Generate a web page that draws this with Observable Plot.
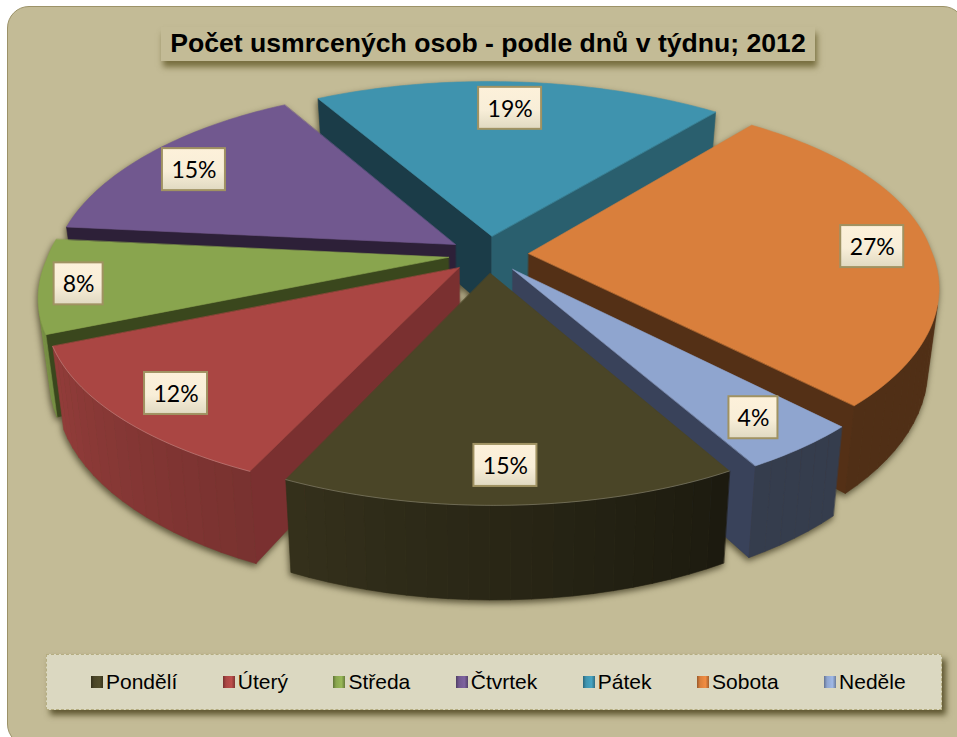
<!DOCTYPE html>
<html lang="cs">
<head>
<meta charset="utf-8">
<script src="https://cdn.jsdelivr.net/npm/d3@7"></script>
<script src="https://cdn.jsdelivr.net/npm/@observablehq/plot@0.6"></script>
<style>
  html, body { margin: 0; background: #fff; }
  #page { position: relative; width: 957px; height: 737px; overflow: hidden; }
  #panel { position: absolute; left: 7px; top: 6px; width: 958px; height: 740px; box-sizing: border-box;
    background: #c3bb96; border: 1px solid #9c9268; border-radius: 22px; }
  #title { position: absolute; left: 161px; top: 27px; width: 654px; height: 34px; text-align: center;
    background: #c3bb96; box-shadow: 2px 6px 6px rgba(95,85,35,.75);
    font: bold 26.6px/33px "Liberation Sans", sans-serif; color: #000; white-space: nowrap; }
  #chart { position: absolute; left: 0; top: 60px; }
  #legend { position: absolute; left: 46px; top: 654px; width: 896px; height: 56px; box-sizing: border-box;
    background: #dbd8c1; border: 1px dashed #b5ad80; box-shadow: 4px 5px 6px rgba(70,62,25,.8);
    display: flex; align-items: center; padding-left: 44px; gap: 45.5px;
    font: 21px "Liberation Sans", sans-serif; color: #000; }
  #legend .item { display: flex; align-items: center; gap: 3px; white-space: nowrap; }
  #legend .sw { width: 12px; height: 12px; display: inline-block; }
</style>
</head>
<body>
<div id="page">
  <div id="panel"></div>
  <div id="title"></div>
  <div id="chart"></div>
  <div id="legend"></div>
</div>
<script>
// ---- data ----
const chartTitle = "Počet usmrcených osob - podle dnů v týdnu; 2012";
const categories = ["Pondělí", "Úterý", "Středa", "Čtvrtek", "Pátek", "Sobota", "Neděle"];
const shares = [15, 12, 8, 15, 19, 27, 4];

// ---- style ----
const topColors = ["#4a4527", "#aa4643", "#89a54e", "#71588f", "#3f93ae", "#d97f3c", "#8fa5cf"];
const startWallColors = ["#2a2716", "#7a3030", "#3a471d", "#2d2038", "#1b3c48", "#573218", "#39425a"];
const endWallColors = ["#2a2716", "#7a3030", "#3a471d", "#2d2038", "#2a5f6e", "#543016", "#39425a"];
const paintOrder = [4, 3, 5, 2, 6, 1, 0];
const labelNudgeX = [-2, 0, -23, 1, -6, 4, 1];
const labelNudgeY = [1, 1, 2, 3.5, 6, 2.5, 0.8];
const highlighted = [0, 1];

// ---- perspective pie geometry ----
const firstAngle = 151, explode = 0.1;
const cx = 491, cy = 253, A = 402, B = 186.5, P = 0.169, PxFront = 0.18, PxBack = 0.145, depth = 77, shrink = 0.975;
const shearX = 3, shearY = 4.5;
const rad = d => d * Math.PI / 180;
function project(u, v, bottom) {
  const w = 1 / (1 - P * v), wx = 1 / (1 - (v > 0 ? PxFront : PxBack) * v);
  const x = cx + A * u * wx + shearX * (v - 1);
  const y = cy + B * v * w - shearY * u * Math.max(0, 1 - v * v) + 1 - Math.max(v, 0);
  return bottom ? {x: cx + shrink * (x - cx), y: y + depth * w} : {x, y};
}
const total = d3.sum(shares);
const cum = d3.cumsum(shares);
const slices = categories.map((name, i) => {
  const a0 = firstAngle + ((cum[i] - shares[i]) / total) * 360;
  const a1 = firstAngle + (cum[i] / total) * 360;
  const mid = (a0 + a1) / 2;
  return {i, name, a0, a1, mid, ox: explode * Math.sin(rad(mid)), oy: -explode * Math.cos(rad(mid))};
});
const rimPoint = (s, a, bottom) => project(s.ox + Math.sin(rad(a)), s.oy - Math.cos(rad(a)), bottom);
const apexPoint = (s, bottom) => project(s.ox, s.oy, bottom);
const area = pts => d3.sum(pts, (p, k) => {
  const q = pts[(k + 1) % pts.length];
  return p.x * q.y - q.x * p.y;
});
// wall brightness by direction of the outer wall
const shade = d3.scaleLinear().domain([150, 205, 260, 300]).range([0.37, 0.71, 0.9, 0.9]).clamp(true);
function dim(color, f) {
  const c = d3.rgb(color);
  return d3.rgb(c.r * f, c.g * f, c.b * f).formatHex();
}

const polys = [];
let pid = 0;
function addPoly(pts, fill) {
  pid++;
  pts.forEach(p => polys.push({x: p.x, y: p.y, poly: pid, fill}));
}
const rimLines = [];
for (const idx of paintOrder) {
  const s = slices[idx];
  const aT = apexPoint(s, false), aB = apexPoint(s, true);
  // radial walls
  const st = [aT, rimPoint(s, s.a0, false), rimPoint(s, s.a0, true), aB];
  const en = [aT, rimPoint(s, s.a1, false), rimPoint(s, s.a1, true), aB];
  if (area(st) < 0) addPoly(st, startWallColors[idx]);
  if (area(en) > 0) addPoly(en, endWallColors[idx]);
  // outer wall in bands
  const n = Math.max(3, Math.round((s.a1 - s.a0) / 2.5));
  for (let k = 0; k < n; k++) {
    const b0 = s.a0 + (s.a1 - s.a0) * k / n, b1 = s.a0 + (s.a1 - s.a0) * (k + 1) / n;
    const quad = [rimPoint(s, b0, false), rimPoint(s, b1, false), rimPoint(s, b1, true), rimPoint(s, b0, true)];
    if (area(quad) < 0) {
      const m = (b0 + b1) / 2;
      addPoly(quad, dim(topColors[idx], shade(m > 360 ? m - 360 : m)));
    }
  }
  // top face
  const top = [aT];
  for (let a = s.a0; a < s.a1; a += 1) top.push(rimPoint(s, a, false));
  top.push(rimPoint(s, s.a1, false));
  addPoly(top, topColors[idx]);
  if (highlighted.includes(idx)) {
    top.slice(1).forEach(p => rimLines.push({x: p.x, y: p.y, z: idx}));
  }
}

const labelW = d => d >= 10 ? 63 : 49, labelH = 42;
const labels = slices.map(s => {
  const r = 0.85;
  const p = project(s.ox + r * Math.sin(rad(s.mid)), s.oy - r * Math.cos(rad(s.mid)), false);
  const share = shares[s.i];
  const x = p.x + labelNudgeX[s.i], y = p.y + labelNudgeY[s.i];
  return {x, y, text: share + "%", x1: x - labelW(share) / 2, x2: x + labelW(share) / 2, y1: y - labelH / 2, y2: y + labelH / 2};
});

const defs = () => {
  const svg = d3.create("svg:defs");
  const g = svg.append("linearGradient").attr("id", "labelGrad").attr("x1", 0).attr("x2", 0).attr("y1", 0).attr("y2", 1);
  g.append("stop").attr("offset", "0%").attr("stop-color", "#fdf1da");
  g.append("stop").attr("offset", "55%").attr("stop-color", "#f8eed8");
  g.append("stop").attr("offset", "100%").attr("stop-color", "#e0d9c1");
  return svg.node();
};

const plot = Plot.plot({
  width: 957, height: 600,
  margin: 0,
  style: {background: "transparent", overflow: "visible"},
  x: {axis: null, domain: [0, 957], range: [0, 957]},
  y: {axis: null, domain: [60, 660], range: [0, 600]},
  color: {type: "identity"},
  marks: [
    defs,
    Plot.line(polys, {x: "x", y: "y", z: "poly", fill: "fill", stroke: "fill", strokeWidth: 0.6, curve: "linear-closed",
      imageFilter: "drop-shadow(-1px 3px 3px rgba(55,50,25,.75))"}),
    Plot.line(rimLines, {x: "x", y: "y", z: "z", stroke: "#fff", strokeOpacity: 0.22, strokeWidth: 1}),
    Plot.rect(labels, {x1: "x1", x2: "x2", y1: "y1", y2: "y2", fill: "url(#labelGrad)", stroke: "#a09262", strokeWidth: 2}),
    Plot.text(labels, {x: "x", y: "y", text: "text", fontFamily: "Lato", fontSize: 23, fill: "#000", dy: 1})
  ]
});
document.getElementById("chart").appendChild(plot);
document.getElementById("title").textContent = chartTitle;

const legend = document.getElementById("legend");
categories.forEach((name, i) => {
  const item = document.createElement("span");
  item.className = "item";
  const sw = document.createElement("span");
  sw.className = "sw";
  const c = topColors[i];
  sw.style.background = `linear-gradient(90deg, ${dim(c, .7)}, ${c} 25%, ${d3.rgb(c).brighter(.3).formatHex()} 70%, ${dim(c, .75)})`;
  const t = document.createElement("span");
  t.textContent = name;
  item.append(sw, t);
  legend.append(item);
});
</script>
</body>
</html>
